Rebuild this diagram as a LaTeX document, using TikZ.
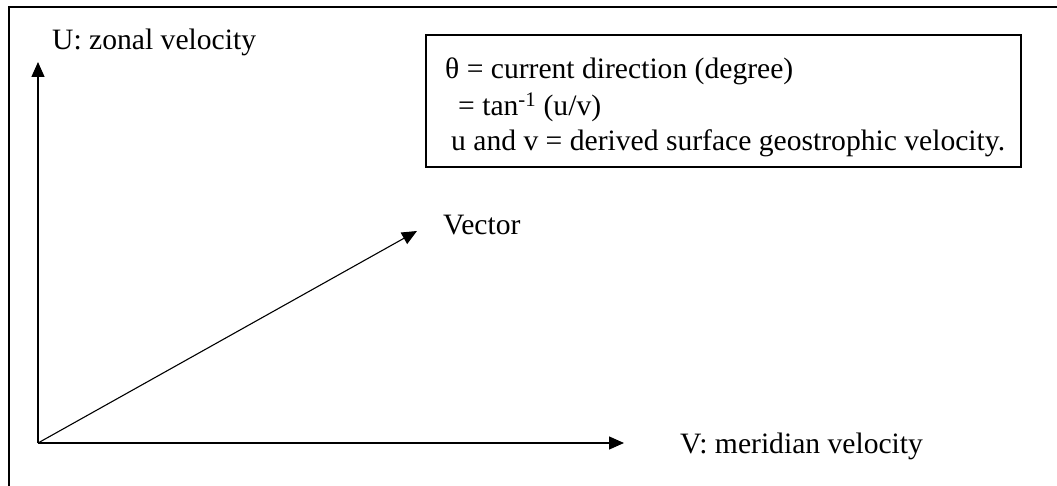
\documentclass[tikz,border=0pt]{standalone}
\usepackage{fontspec}
\setmainfont{Liberation Serif}
\usetikzlibrary{arrows.meta}
\begin{document}
\begin{tikzpicture}[x=1pt,y=-1pt,
  txt/.style={anchor=base west,inner sep=0pt,font=\fontsize{29.6}{35}\selectfont},
  axis/.style={line width=1.3pt,-{Triangle[length=15pt,width=13pt]}},
  frame/.style={line width=1.2pt}]
\useasboundingbox (0,0) rectangle (1057,486);
% outer frame (top and left only)
\coordinate (fl) at (9,486);
\coordinate (fc) at (9,7);
\coordinate (fr) at (1057,7);
\draw[frame] (fl) -- (fc) -- (fr);
% axes
\coordinate (O) at (38,443);
\coordinate (Utip) at (38,62);
\coordinate (Vtip) at (624,443);
\coordinate (Vec) at (417,231);
\draw[axis] (O) -- (Utip);
\draw[axis] (O) -- (Vtip);
\draw[axis,line width=1.1pt] (O) -- (Vec);
% labels
\node[txt] (ulab) at (52,50) {U: zonal velocity};
\node[txt] (vlab) at (680,453) {V: meridian velocity};
\node[txt] (veclab) at (443,235) {Vector};
% legend box
\node[draw,line width=1.6pt,anchor=north west,minimum width=595pt,minimum height=132pt,inner sep=0pt] (box) at (425,34) {};
\node[txt] (l1) at (445,79) {θ = current direction (degree)};
\node[txt] (l2) at (458,116) {= tan\textsuperscript{-1} (u/v)};
\node[txt] (l3) at (451,151) {u and v = derived surface geostrophic velocity.};
\end{tikzpicture}
\end{document}
